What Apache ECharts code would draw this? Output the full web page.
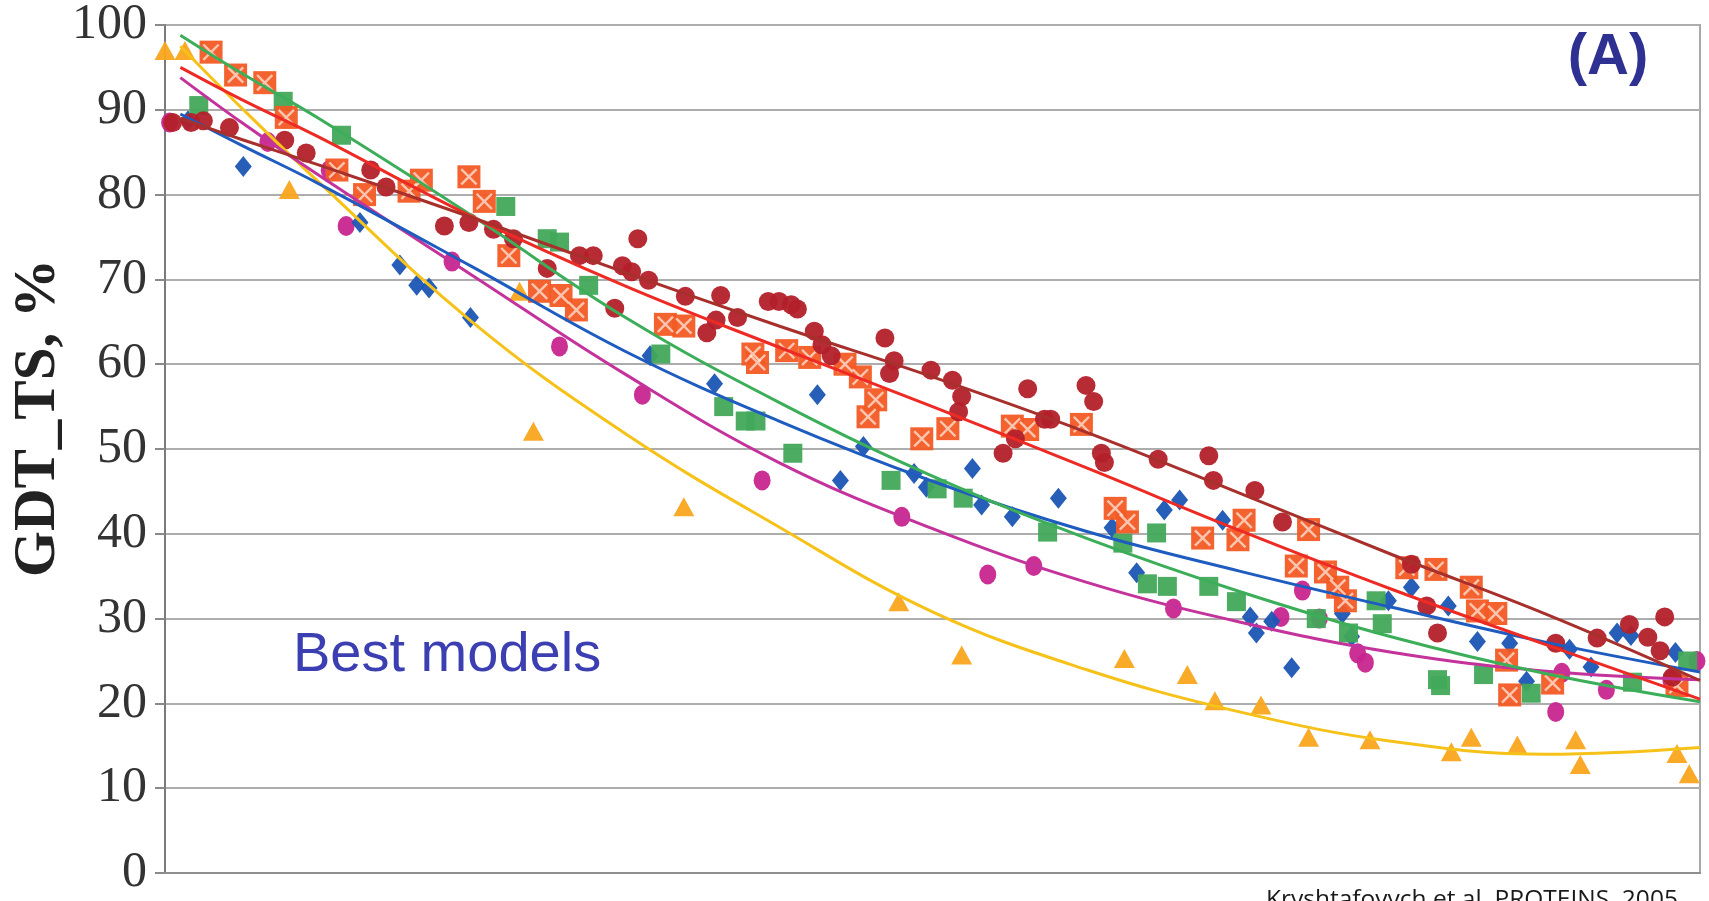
<!DOCTYPE html>
<html>
<head>
<meta charset="utf-8">
<script src="https://cdn.jsdelivr.net/npm/echarts@6/dist/echarts.min.js"></script>
<style>
  html, body { margin: 0; padding: 0; background: #fff; }
  #chart { width: 1709px; height: 901px; }
</style>
</head>
<body>
<div id="chart"></div>
<script>
// Puntos: [posicion del blanco (0-100), GDT_TS %]
var darkRedPts = [[0.5, 88.5], [1.7, 88.5], [2.5, 88.7], [4.2, 87.9], [7.8, 86.4], [9.2, 84.9], [13.4, 82.9], [14.4, 80.9],
  [18.2, 76.3], [19.8, 76.7], [21.4, 75.9], [22.7, 74.8], [24.9, 71.3], [27.0, 72.8], [27.9, 72.8], [29.3, 66.6],
  [29.8, 71.6], [30.4, 70.9], [30.8, 74.8], [31.5, 69.9], [33.9, 68.0], [35.3, 63.7], [35.9, 65.2], [36.2, 68.1],
  [37.3, 65.5], [39.3, 67.4], [40.0, 67.4], [40.8, 67.0], [41.2, 66.5], [42.3, 63.9], [42.8, 62.3], [43.4, 61.0],
  [46.9, 63.1], [47.2, 58.9], [47.5, 60.4], [49.9, 59.3], [51.3, 58.1], [51.7, 54.4], [51.9, 56.2], [54.6, 49.5],
  [55.4, 51.2], [56.2, 57.1], [57.3, 53.5], [57.7, 53.5], [60.0, 57.5], [60.5, 55.6], [61.0, 49.5], [61.2, 48.4],
  [64.7, 48.8], [68.0, 49.2], [68.3, 46.3], [71.0, 45.1], [72.8, 41.4], [81.2, 36.4], [82.2, 31.5], [82.9, 28.3],
  [90.6, 27.1], [93.3, 27.7], [95.4, 29.3], [96.6, 27.8], [97.4, 26.2], [97.7, 30.2], [98.2, 23.1]];
var orangePts = [[3.0, 96.8], [4.6, 94.1], [6.5, 93.2], [7.9, 89.1], [11.2, 82.9], [13.0, 80.0], [15.9, 80.4], [16.7, 81.7],
  [19.8, 82.1], [20.8, 79.2], [22.4, 72.8], [24.4, 68.6], [25.8, 68.1], [26.8, 66.4], [32.6, 64.7], [33.8, 64.5],
  [38.3, 61.2], [38.6, 60.2], [40.5, 61.6], [42.0, 60.8], [44.3, 60.0], [45.3, 58.5], [45.8, 53.8], [46.3, 55.8],
  [49.3, 51.2], [51.0, 52.4], [55.2, 52.7], [56.2, 52.3], [59.7, 52.9], [61.9, 43.0], [62.7, 41.4], [67.6, 39.5],
  [69.9, 39.3], [70.3, 41.6], [73.7, 36.2], [74.5, 40.5], [75.6, 35.5], [76.4, 33.7], [76.9, 32.1], [80.9, 36.0],
  [82.8, 35.8], [85.1, 33.7], [85.5, 30.9], [86.7, 30.6], [87.4, 25.1], [87.6, 21.0], [90.4, 22.4], [98.5, 22.1]];
var greenPts = [[2.2, 90.5], [7.7, 91.0], [11.5, 87.0], [22.2, 78.6], [24.9, 74.8], [25.7, 74.4], [27.6, 69.3], [32.3, 61.2],
  [36.4, 55.0], [37.8, 53.3], [38.5, 53.3], [40.9, 49.5], [47.3, 46.3], [50.3, 45.3], [52.0, 44.2], [57.5, 40.2],
  [62.4, 38.9], [64.0, 34.1], [64.6, 40.1], [65.3, 33.8], [68.0, 33.8], [69.8, 32.0], [75.0, 30.0], [77.1, 28.3],
  [78.9, 32.1], [79.3, 29.4], [82.9, 22.8], [83.1, 22.1], [85.9, 23.4], [89.0, 21.2], [95.6, 22.5], [99.2, 25.0]];
var bluePts = [[1.5, 88.7], [5.1, 83.3], [12.7, 76.7], [15.3, 71.7], [16.4, 69.3], [17.2, 69.0], [19.9, 65.5], [31.6, 61.0],
  [35.8, 57.7], [42.5, 56.4], [44.0, 46.3], [45.5, 50.3], [48.8, 47.1], [49.6, 45.5], [52.6, 47.7], [53.2, 43.4],
  [55.2, 42.0], [58.2, 44.2], [61.7, 40.7], [63.3, 35.4], [65.1, 42.8], [66.1, 44.0], [68.9, 41.6], [70.7, 30.2],
  [71.1, 28.3], [72.1, 29.7], [73.4, 24.2], [76.7, 30.6], [77.3, 27.9], [79.7, 32.1], [81.2, 33.7], [83.6, 31.5],
  [85.5, 27.3], [87.6, 27.1], [88.7, 22.6], [91.5, 26.4], [92.9, 24.3], [94.6, 28.3], [95.5, 28.0], [98.4, 26.0]];
var magentaPts = [[0.3, 88.5], [6.7, 86.2], [10.7, 82.9], [11.8, 76.3], [18.7, 72.1], [25.7, 62.1], [31.1, 56.4], [38.9, 46.3],
  [48.0, 42.0], [53.6, 35.2], [56.6, 36.2], [65.7, 31.2], [72.7, 30.2], [74.1, 33.3], [75.2, 30.0], [77.7, 25.9],
  [78.2, 24.8], [90.6, 19.0], [91.0, 23.6], [93.9, 21.6], [98.1, 22.8], [99.8, 25.0]];
var yellowPts = [[0.0, 97.0], [1.3, 97.0], [8.1, 80.6], [23.1, 68.6], [24.0, 52.1], [33.8, 43.2], [47.8, 32.0], [51.9, 25.7],
  [62.5, 25.3], [66.6, 23.4], [68.4, 20.3], [71.4, 19.8], [74.5, 16.0], [78.5, 15.7], [83.8, 14.3], [85.1, 16.0],
  [88.1, 15.1], [91.9, 15.7], [92.2, 12.8], [98.5, 14.1], [99.3, 11.7]];

var trendX = [1, 5, 10, 20, 30, 40, 50, 60, 70, 80, 90, 100];
var darkRedTrend = [89.0, 86.5, 83.5, 77.3, 70.8, 64.5, 58.5, 52.0, 44.8, 37.5, 30.5, 22.7];
var redTrend = [95.0, 91.2, 86.8, 77.4, 69.2, 62.0, 55.0, 47.8, 40.4, 33.4, 26.9, 20.5];
var greenTrend = [98.8, 94.3, 89.0, 77.5, 65.5, 55.5, 46.8, 39.5, 33.2, 27.8, 23.5, 20.2];
var blueTrend = [89.5, 85.8, 81.3, 71.5, 61.5, 53.3, 46.2, 40.3, 35.6, 31.3, 27.2, 23.7];
var magentaTrend = [93.8, 88.5, 82.3, 70.5, 58.8, 48.4, 40.6, 34.3, 29.6, 26.0, 23.8, 22.8];
var yellowTrend = [97.5, 90.2, 81.5, 65.0, 51.8, 40.8, 30.8, 24.0, 19.0, 15.5, 14.0, 14.8];

var yTicks = [0, 10, 20, 30, 40, 50, 60, 70, 80, 90, 100];

var chartDom = document.getElementById('chart');
var myChart = echarts.init(chartDom, null, { renderer: 'canvas' });

function trend(ys) {
  return trendX.map(function (x, i) { return [x, ys[i]]; });
}

function lineSeries(ys, color) {
  return {
    type: 'line',
    data: trend(ys),
    smooth: 0.4,
    showSymbol: false,
    symbol: 'none',
    silent: true,
    z: 5,
    lineStyle: { color: color, width: 3 }
  };
}

function dotSeries(pts, symbol, size, color) {
  return {
    type: 'scatter',
    data: pts,
    symbol: symbol,
    symbolSize: size,
    z: 3,
    itemStyle: { color: color, opacity: 0.95 }
  };
}

// Cruz blanca para los cuadrados naranjas
var crossPath = 'path://M0,1L1,0L5,4L9,0L10,1L6,5L10,9L9,10L5,6L1,10L0,9L4,5Z';

var option = {
  animation: false,
  backgroundColor: '#ffffff',
  grid: {
    left: 165, right: 9, top: 13, bottom: 28,
    show: true,
    borderColor: '#a9a9a9',
    borderWidth: 2,
    backgroundColor: 'transparent'
  },
  xAxis: {
    type: 'value',
    min: 0, max: 100,
    axisLabel: { show: false },
    axisTick: { show: false },
    splitLine: { show: false },
    axisLine: { show: true, lineStyle: { color: '#8e8e8e', width: 2 } }
  },
  yAxis: {
    type: 'value',
    min: yTicks[0], max: yTicks[yTicks.length - 1], interval: 10,
    axisLine: { show: true, lineStyle: { color: '#7a7a7a', width: 2 } },
    axisTick: { show: true, length: 10, lineStyle: { color: '#8a8a8a', width: 2 } },
    splitLine: { show: true, lineStyle: { color: '#adadad', width: 2 } },
    axisLabel: {
      fontFamily: 'Liberation Serif',
      fontSize: 50,
      color: '#333333',
      margin: 18,
      padding: [24, 0, 0, 0]
    }
  },
  series: [
    dotSeries(yellowPts, 'triangle', [21, 19], '#f8a51c'),
    dotSeries(magentaPts, 'circle', [17, 20], '#c8258f'),
    dotSeries(bluePts, 'diamond', [17, 21], '#1b56b4'),
    dotSeries(greenPts, 'rect', 19, '#41a85a'),
    dotSeries(orangePts, 'rect', 23, '#f25a24'),
    {
      type: 'scatter',
      data: orangePts,
      symbol: crossPath,
      symbolSize: 17,
      z: 3,
      silent: true,
      itemStyle: { color: 'rgba(255,235,225,0.9)' }
    },
    dotSeries(darkRedPts, 'circle', 19, '#b3202a'),
    lineSeries(yellowTrend, '#f6c21a'),
    lineSeries(magentaTrend, '#c4339b'),
    lineSeries(blueTrend, '#1f5cc0'),
    lineSeries(greenTrend, '#3cae5a'),
    lineSeries(redTrend, '#ee2a24'),
    lineSeries(darkRedTrend, '#a8302c')
  ],
  graphic: [
    {
      type: 'text',
      x: 39, y: 418,
      rotation: Math.PI / 2,
      style: {
        text: 'GDT_TS, %',
        fontFamily: 'Liberation Serif',
        fontWeight: 'bold',
        fontSize: 59,
        fill: '#222222',
        textAlign: 'center',
        textVerticalAlign: 'middle'
      }
    },
    {
      type: 'text',
      x: 1608, y: 58,
      style: {
        text: '(A)',
        fontFamily: 'Liberation Sans',
        fontWeight: 'bold',
        fontSize: 58,
        fill: '#2e3192',
        textAlign: 'center',
        textVerticalAlign: 'middle'
      }
    },
    {
      type: 'text',
      x: 293, y: 684,
      style: {
        text: 'Best models',
        fontFamily: 'Liberation Sans',
        fontSize: 56,
        fill: '#3c3fb1',
        textAlign: 'left',
        textVerticalAlign: 'bottom'
      }
    },
    {
      type: 'text',
      x: 1266, y: 913,
      style: {
        text: 'Kryshtafovych et al. PROTEINS, 2005',
        fontFamily: 'Open Sans',
        fontSize: 24.5,
        fill: '#1a1a1a',
        textAlign: 'left',
        textVerticalAlign: 'bottom'
      }
    }
  ]
};

myChart.setOption(option);
</script>
</body>
</html>
